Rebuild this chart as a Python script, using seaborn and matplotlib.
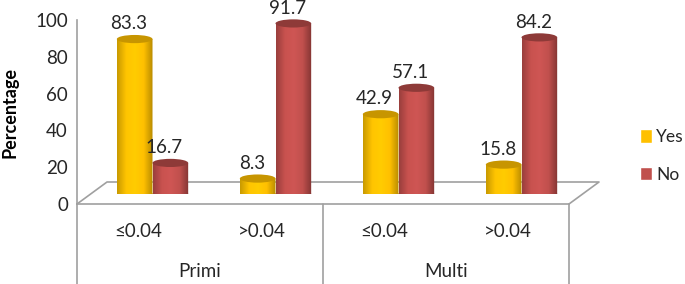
import numpy as np
import pandas as pd
import matplotlib
matplotlib.use("Agg")
import matplotlib.pyplot as plt
from matplotlib.colors import LinearSegmentedColormap
from matplotlib.patches import Ellipse, Patch, PathPatch, Rectangle
from matplotlib.path import Path
from matplotlib.transforms import Affine2D
import seaborn as sns

groups = ["Primi", "Multi"]
thresholds = ["≤0.04", ">0.04", "≤0.04", ">0.04"]
yes_values = [83.3, 8.3, 42.9, 15.8]
no_values = [16.7, 91.7, 57.1, 84.2]
series_names = ["Yes", "No"]
y_ticks = [0, 20, 40, 60, 80, 100]

colors = {"Yes": "#FFC000", "No": "#C0504D"}
caps = {"Yes": "#C79500", "No": "#8E3A38"}
ramps = {
    "Yes": ["#C99A00", "#FFC400", "#FFCC00", "#FFC000", "#B98C00"],
    "No": ["#9A3F3D", "#C9524F", "#CF5654", "#C0504D", "#833533"],
}
GREY = "#A0A0A0"
TEXT = "#262626"

sns.set_theme(style="white")
plt.rcParams["font.family"] = ["Lato", "DejaVu Sans"]

W, H = 685, 284
fig = plt.figure(figsize=(W / 100, H / 100), dpi=100)


def box(left, right, top, bottom):
    return [left / W, 1 - bottom / H, (right - left) / W, (bottom - top) / H]


# Frame: axis, floor and category table
ax = fig.add_axes(box(77, 569, 20, 204))
ax.set_xlim(-0.5, 3.5)
ax.set_ylim(0, 100)
ax.patch.set_alpha(0)
for name, spine in ax.spines.items():
    spine.set_visible(name in ("left", "bottom"))
    spine.set_color(GREY)
    spine.set_linewidth(1.2)
ax.set_yticks(y_ticks)
ax.set_xticks(range(len(thresholds)))
ax.set_xticklabels(thresholds, fontsize=13.5, color=TEXT)
ax.tick_params(axis="x", length=0, pad=14)
ax.tick_params(axis="y", length=3.5, width=1.2, color=GREY, labelsize=13.5,
               labelcolor=TEXT, pad=3)
ax.set_ylabel("Percentage", fontsize=13, fontweight="bold", color="black", labelpad=12)

dx, dy = 30 / 492, 22 / 184
frac = ax.transAxes
ax.plot([0, dx, 1 + dx, 1], [0, dy, dy, 0], color=GREY, lw=1.2, transform=frac,
        clip_on=False, zorder=1)
for sep in [0, 0.5, 1]:
    ax.plot([sep, sep], [0, -0.44], color=GREY, lw=1.2, transform=frac, clip_on=False)
for pos, label in zip([0.25, 0.75], groups):
    ax.text(pos, -0.365, label, transform=frac, ha="center", va="center",
            fontsize=13.5, color=TEXT)

# Cylinders on their own oblique-offset axes
bx = fig.add_axes(box(91, 583, 8, 194))
bx.patch.set_alpha(0)
bx.set_axis_off()

keys = [f"{i}" for i in range(len(thresholds))]
df = pd.DataFrame({
    "key": keys * 2,
    "series": ["Yes"] * 4 + ["No"] * 4,
    "value": yes_values + no_values,
})
sns.barplot(data=df, x="key", y="value", hue="series", hue_order=series_names,
            order=keys, width=0.58, gap=0, dodge=True, palette=colors, legend=False,
            ax=bx, saturation=1, errorbar=None)
bx.set_xlim(-0.5, 3.5)
bx.set_ylim(0, 100)
bx.set_axis_off()

CAP_H = 4.4
for container, name in zip(bx.containers, series_names):
    cmap = LinearSegmentedColormap.from_list(name, ramps[name])
    gradient = np.linspace(0, 1, 64).reshape(1, -1)
    for i, bar in enumerate(container):
        x0, w, v = bar.get_x(), bar.get_width(), bar.get_height()
        z = 3 + i * 2 + (0.5 if name == "No" else 0)
        bar.set_visible(False)
        xc = x0 + w / 2
        rect = Rectangle((x0, 0), w, v).get_path().transformed(
            Affine2D().scale(w, v).translate(x0, 0))
        base = Path.unit_circle().transformed(
            Affine2D().scale(w / 2, CAP_H / 2).translate(xc, 0))
        clip = PathPatch(Path.make_compound_path(rect, base), transform=bx.transData)
        img = bx.imshow(gradient, extent=(x0, x0 + w, -CAP_H / 2, v), aspect="auto",
                        cmap=cmap, zorder=z, origin="lower", interpolation="bilinear")
        img.set_clip_path(clip)
        bx.add_patch(Ellipse((xc, v), w, CAP_H, facecolor=caps[name], edgecolor="none",
                             zorder=z + 0.1))
        bx.annotate(f"{v:.1f}", (xc, v), xytext=(-4.3, 11), textcoords="offset points",
                    ha="center", va="center", fontsize=13.5, color=TEXT, zorder=30,
                    annotation_clip=False)
bx.set_xlim(-0.5, 3.5)
bx.set_ylim(0, 100)

handles = [Patch(facecolor=colors[n], label=n) for n in series_names]
fig.legend(handles=handles, loc="center left", bbox_to_anchor=(640 / W, 1 - 156 / H),
           frameon=False, fontsize=12.5, handlelength=0.68, handleheight=0.8,
           handletextpad=0.25, labelspacing=1.25, labelcolor=TEXT, borderpad=0,
           borderaxespad=0)

fig.savefig("out.png", dpi=100)
